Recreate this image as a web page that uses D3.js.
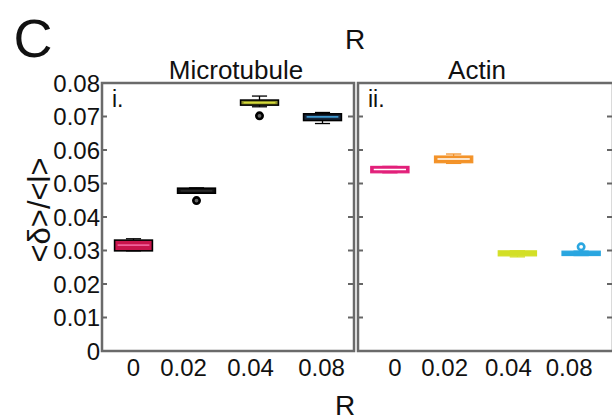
<!DOCTYPE html>
<html><head><meta charset="utf-8">
<script src="https://cdn.jsdelivr.net/npm/d3@7"></script>
<style>body{margin:0;background:#fff}svg{display:block}text{font-family:"Liberation Sans",Arial,Helvetica,sans-serif;fill:#111}</style>
</head><body><svg id="c" width="612" height="420"></svg>
<script>
const categories = ["0", "0.02", "0.04", "0.08"];
const yTicks = [0, 0.01, 0.02, 0.03, 0.04, 0.05, 0.06, 0.07, 0.08];
const yTickLabels = ["0", "0.01", "0.02", "0.03", "0.04", "0.05", "0.06", "0.07", "0.08"];
const panelTitles = ["Microtubule", "Actin"];
const panelTags = ["i.", "ii."];

// Microtubule
const mtQ1  = [0.0299, 0.0471, 0.0734, 0.0688];
const mtMed = [0.0316, 0.0478, 0.0741, 0.0699];
const mtQ3  = [0.0331, 0.0486, 0.0749, 0.0708];
const mtLo  = [0.0299, 0.0471, 0.0729, 0.0679];
const mtHi  = [0.0335, 0.0487, 0.0761, 0.0712];
const mtOut = [[], [0.0449], [0.0702], []];
// Actin
const acQ1  = [0.0532, 0.0562, 0.0284, 0.0285];
const acMed = [0.0542, 0.0573, 0.0292, 0.0291];
const acQ3  = [0.0551, 0.0582, 0.0299, 0.0298];
const acLo  = [0.0532, 0.0560, 0.0281, 0.0285];
const acHi  = [0.0551, 0.0588, 0.0299, 0.0298];
const acOut = [[], [], [], [0.0311]];

const mtFill = ["#c8144c", "#111111", "#8f9128", "#16263a"];
const mtMedC = ["#f0609a", "#2a2a2a", "#d6dc3a", "#3f9ad0"];
const acFill = ["#e2207a", "#f39228", "#d3df26", "#2aa6e0"];
const acMedC = ["#ffffff", "#ffffff", "#d3df26", "#2aa6e0"];

const svg = d3.select("#c");
const y = d3.scaleLinear().domain([0, 0.08]).range([351, 83]);
function txt(g, x, yy, s, size, anchor, extra) {
  return g.append("text").attr("transform", `translate(${x},${yy})` + (extra || ""))
    .attr("font-size", size).attr("text-anchor", anchor).text(s);
}

const panels = [
  {x0: 102, x1: 354, q1: mtQ1, med: mtMed, q3: mtQ3, lo: mtLo, hi: mtHi, out: mtOut, fill: mtFill, medc: mtMedC, stroke: "#000", labDx: [0, -13, -9, -1], titleX: 236},
  {x0: 358, x1: 613, q1: acQ1, med: acMed, q3: acQ3, lo: acLo, hi: acHi, out: acOut, fill: acFill, medc: acMedC, stroke: null, labDx: [5, -9, -9, -12], titleX: 477}
];

panels.forEach((p, pi) => {
  const x = d3.scaleBand().domain(categories).range([p.x0, p.x1]);
  const g = svg.append("g");
  const bw = x.bandwidth() * 0.6;
  categories.forEach((c, i) => {
    const cx = x(c) + x.bandwidth() / 2;
    const wc = p.fill[i];
    const sc = p.stroke || wc;
    g.append("line").attr("x1", cx).attr("x2", cx).attr("y1", y(p.q3[i])).attr("y2", y(p.hi[i])).attr("stroke", sc).attr("stroke-width", 1.3);
    g.append("line").attr("x1", cx).attr("x2", cx).attr("y1", y(p.q1[i])).attr("y2", y(p.lo[i])).attr("stroke", sc).attr("stroke-width", 1.3);
    g.append("line").attr("x1", cx - bw / 5).attr("x2", cx + bw / 5).attr("y1", y(p.hi[i])).attr("y2", y(p.hi[i])).attr("stroke", sc).attr("stroke-width", 1.3);
    g.append("line").attr("x1", cx - bw / 5).attr("x2", cx + bw / 5).attr("y1", y(p.lo[i])).attr("y2", y(p.lo[i])).attr("stroke", sc).attr("stroke-width", 1.3);
    const top = y(p.q3[i]), bot = y(p.q1[i]);
    g.append("rect").attr("x", cx - bw / 2).attr("y", top).attr("width", bw).attr("height", Math.max(bot - top, 1))
      .attr("fill", wc).attr("stroke", sc).attr("stroke-width", p.stroke ? 1.6 : 1.2);
    g.append("line").attr("x1", cx - bw / 2 + 3).attr("x2", cx + bw / 2 - 3).attr("y1", y(p.med[i])).attr("y2", y(p.med[i]))
      .attr("stroke", p.medc[i]).attr("stroke-width", 1.6);
    p.out[i].forEach(v => {
      g.append("circle").attr("cx", cx).attr("cy", y(v)).attr("r", 3.2)
        .attr("fill", p.stroke ? "#666" : "#fff").attr("stroke", sc).attr("stroke-width", 2.6);
    });
    txt(svg, cx + p.labDx[i], 376, c, 24, "middle");
  });
  yTicks.slice(1, -1).forEach(t => {
    g.append("line").attr("x1", p.x0).attr("x2", p.x0 + 5).attr("y1", y(t)).attr("y2", y(t)).attr("stroke", "#666").attr("stroke-width", 2);
    g.append("line").attr("x1", p.x1 - 6).attr("x2", p.x1).attr("y1", y(t)).attr("y2", y(t)).attr("stroke", "#666").attr("stroke-width", 2);
  });
  g.append("rect").attr("x", p.x0).attr("y", y(0.08)).attr("width", p.x1 - p.x0).attr("height", y(0) - y(0.08))
    .attr("fill", "none").attr("stroke", "#6a6a6a").attr("stroke-width", 2.5);
  txt(svg, p.titleX, 79, panelTitles[pi], 26, "middle");
  txt(svg, p.x0 + 10, 107, panelTags[pi], 23, "start");
});

yTicks.forEach((t, i) => {
  txt(svg, 100, y(t) + 8.5, yTickLabels[i], 24, "end");
});
svg.append("text").attr("transform", `translate(50,210) rotate(-90)`)
  .attr("font-size", 31).attr("text-anchor", "middle").text("<δ>/<l>");
txt(svg, 355, 49, "R", 28, "middle");
txt(svg, 345, 415, "R", 28, "middle");
txt(svg, 33, 57, "C", 54, "middle");
</script></body></html>
